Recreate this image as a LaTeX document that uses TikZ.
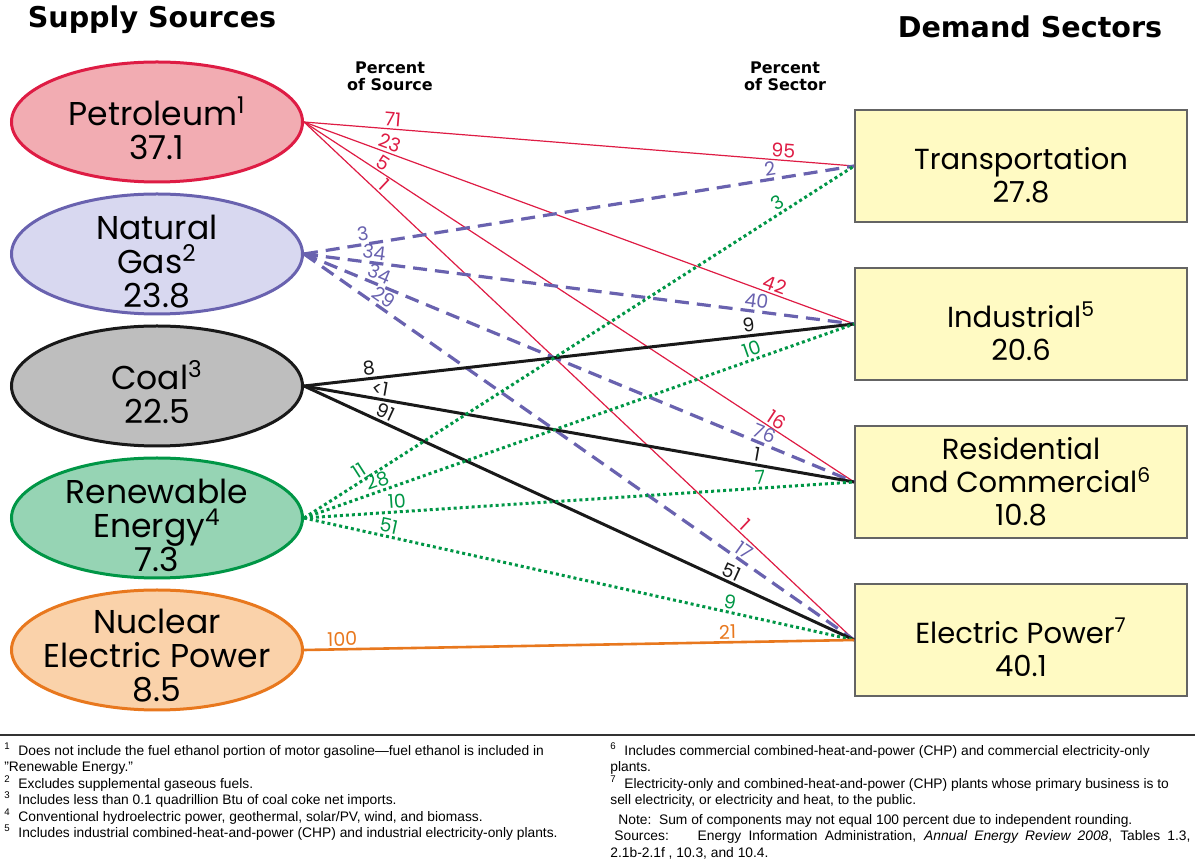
\documentclass[tikz,border=0pt]{standalone}
\usepackage{fontspec}
\setmainfont{Liberation Sans}
\newfontfamily\geo{Poppins}
\newfontfamily\heavy{DejaVu Sans}
\usetikzlibrary{shapes.geometric,positioning}
\definecolor{petfill}{RGB}{242,172,178}
\definecolor{petline}{RGB}{222,28,68}
\definecolor{gasfill}{RGB}{216,216,240}
\definecolor{gasline}{RGB}{105,98,175}
\definecolor{coalfill}{RGB}{190,190,190}
\definecolor{coalline}{RGB}{25,25,25}
\definecolor{renfill}{RGB}{150,212,180}
\definecolor{renline}{RGB}{0,150,70}
\definecolor{nucfill}{RGB}{250,210,170}
\definecolor{nucline}{RGB}{232,120,30}
\definecolor{boxfill}{RGB}{255,250,195}
\definecolor{boxline}{RGB}{100,100,100}
\newcommand\drop[1]{\rule{0pt}{#1}}

\begin{document}
\begin{tikzpicture}[x=0.5pt,y=-0.5pt,node distance=66pt]
        \tikzstyle{source}=[ellipse,line width=1.5pt,minimum width=145.5pt,minimum height=60pt,inner xsep=-15pt,inner ysep=-10pt,align=center,font=\geo\fontsize{16.5}{17}\selectfont]
        \tikzstyle{sector}=[rectangle,draw=boxline,fill=boxfill,line width=0.8pt,minimum width=166pt,minimum height=56pt,align=center,font=\geo\fontsize{14.5}{16.5}\selectfont]
        \tikzstyle{lab}=[sloped,above,inner sep=1pt,font=\geo\fontsize{9.5}{10}\selectfont]
        \tikzstyle{petflow}=[color=petline,line width=0.6pt]
        \tikzstyle{gasflow}=[color=gasline,line width=1.6pt,dash pattern=on 7pt off 4pt]
        \tikzstyle{coalflow}=[color=coalline,line width=1.5pt]
        \tikzstyle{renflow}=[color=renline,line width=1.5pt,dash pattern=on 1.5pt off 1.5pt]
        \tikzstyle{nucflow}=[color=nucline,line width=1.3pt]
        \tikzstyle{note}=[anchor=north west,align=left,inner sep=0pt,font=\fontsize{6.9}{8.25}\selectfont]
        \tikzstyle{heading}=[font=\heavy\bfseries\fontsize{14.3}{16}\selectfont]
        \tikzstyle{colhead}=[align=center,font=\heavy\bfseries\fontsize{8}{8.5}\selectfont]
        \useasboundingbox (0,0) rectangle (1195,860);
        % headings
        \node[heading](hsrc) at (152,20){Supply Sources};
        \node[heading](hsec) at (1030,27){Demand Sectors};
        \node[colhead](psrc) at (390,76){Percent\\of Source};
        \node[colhead](psec) at (785,76){Percent\\of Sector};
        % supply sources
        \node[source,draw=petline,fill=petfill](pet) at (157,122){\drop{21pt}Petroleum\textsuperscript{1}\\37.1};
        \node[source,draw=gasline,fill=gasfill,below of=pet](gas){\drop{20pt}Natural\\Gas\textsuperscript{2}\\23.8};
        \node[source,draw=coalline,fill=coalfill,below of=gas](coal){\drop{21pt}Coal\textsuperscript{3}\\22.5};
        \node[source,draw=renline,fill=renfill,below of=coal](ren){\drop{20pt}Renewable\\Energy\textsuperscript{4}\\7.3};
        \node[source,draw=nucline,fill=nucfill,below of=ren](nuc){\drop{18pt}Nuclear\\Electric Power\\8.5};
        % demand sectors
        \node[sector](tra) at (1021,166){\drop{20pt}Transportation\\27.8};
        \node[sector,below of=tra,node distance=79pt](ind){\drop{20pt}Industrial\textsuperscript{5}\\20.6};
        \node[sector,below of=ind,node distance=79pt](res){Residential\\and Commercial\textsuperscript{6}\\10.8};
        \node[sector,below of=res,node distance=79pt](ele){\drop{20pt}Electric Power\textsuperscript{7}\\40.1};
        % flows
        \draw[petflow](pet.east) -- node[lab,pos=.16]{71} node[lab,pos=.87]{95} (tra.west);
        \draw[petflow](pet.east) -- node[lab,pos=.15]{23} node[lab,pos=.85]{42} (ind.west);
        \draw[petflow](pet.east) -- node[lab,pos=.135]{5} node[lab,pos=.85]{16} (res.west);
        \draw[petflow](pet.east) -- node[lab,pos=.135]{1} node[lab,pos=.79]{1} (ele.west);
        \draw[gasflow](gas.east) -- node[lab,pos=.11]{3} node[lab,pos=.85]{2} (tra.west);
        \draw[gasflow](gas.east) -- node[lab,pos=.125]{34} node[lab,pos=.82]{40} (ind.west);
        \draw[gasflow](gas.east) -- node[lab,pos=.13]{34} node[lab,pos=.83]{76} (res.west);
        \draw[gasflow](gas.east) -- node[lab,pos=.135]{29} node[lab,pos=.79]{17} (ele.west);
        \draw[coalflow](coal.east) -- node[lab,pos=.12]{8} node[lab,pos=.81]{9} (ind.west);
        \draw[coalflow](coal.east) -- node[lab,pos=.135]{<1} node[lab,pos=.82]{1} (res.west);
        \draw[coalflow](coal.east) -- node[lab,pos=.14]{91} node[lab,pos=.77]{51} (ele.west);
        \draw[renflow](ren.east) -- node[lab,pos=.11]{11} node[lab,pos=.87]{3} (tra.west);
        \draw[renflow](ren.east) -- node[lab,pos=.14]{28} node[lab,pos=.82]{10} (ind.west);
        \draw[renflow](ren.east) -- node[lab,pos=.17]{10} node[lab,pos=.83]{7} (res.west);
        \draw[renflow](ren.east) -- node[lab,pos=.15]{51} node[lab,pos=.77]{9} (ele.west);
        \draw[nucflow](nuc.east) -- node[lab,pos=.07]{100} node[lab,pos=.77]{21} (ele.west);
        % footnotes
        \coordinate (ruleL) at (0,735);
        \coordinate (ruleR) at (1195,735);
        \draw[line width=1pt,draw=black!80](ruleL) -- (ruleR);
        \node[note](fnl) at (4,742){\textsuperscript{1}\ \ Does not include the fuel ethanol portion of motor gasoline---fuel ethanol is included in\\
\symbol{34}Renewable Energy.\symbol{34}\\
\textsuperscript{2}\ \ Excludes supplemental gaseous fuels.\\
\textsuperscript{3}\ \ Includes less than 0.1 quadrillion Btu of coal coke net imports.\\
\textsuperscript{4}\ \ Conventional hydroelectric power, geothermal, solar/PV, wind, and biomass.\\
\textsuperscript{5}\ \ Includes industrial combined-heat-and-power (CHP) and industrial electricity-only plants.};
        \node[note](fnr) at (610,742){\textsuperscript{6}\ \ Includes commercial combined-heat-and-power (CHP) and commercial electricity-only\\
plants.\\
\textsuperscript{7}\ \ Electricity-only and combined-heat-and-power (CHP) plants whose primary business is to\\
sell electricity, or electricity and heat, to the public.\\[1.5pt]
\hspace*{4pt}Note:\ \ Sum of components may not equal 100 percent due to independent rounding.\\
\hspace*{2pt}\makebox[288pt][s]{Sources:\ \ \ \ Energy Information Administration, \textit{Annual Energy Review 2008}, Tables 1.3,}\\
2.1b-2.1f , 10.3, and 10.4.};
\end{tikzpicture}
\end{document}
